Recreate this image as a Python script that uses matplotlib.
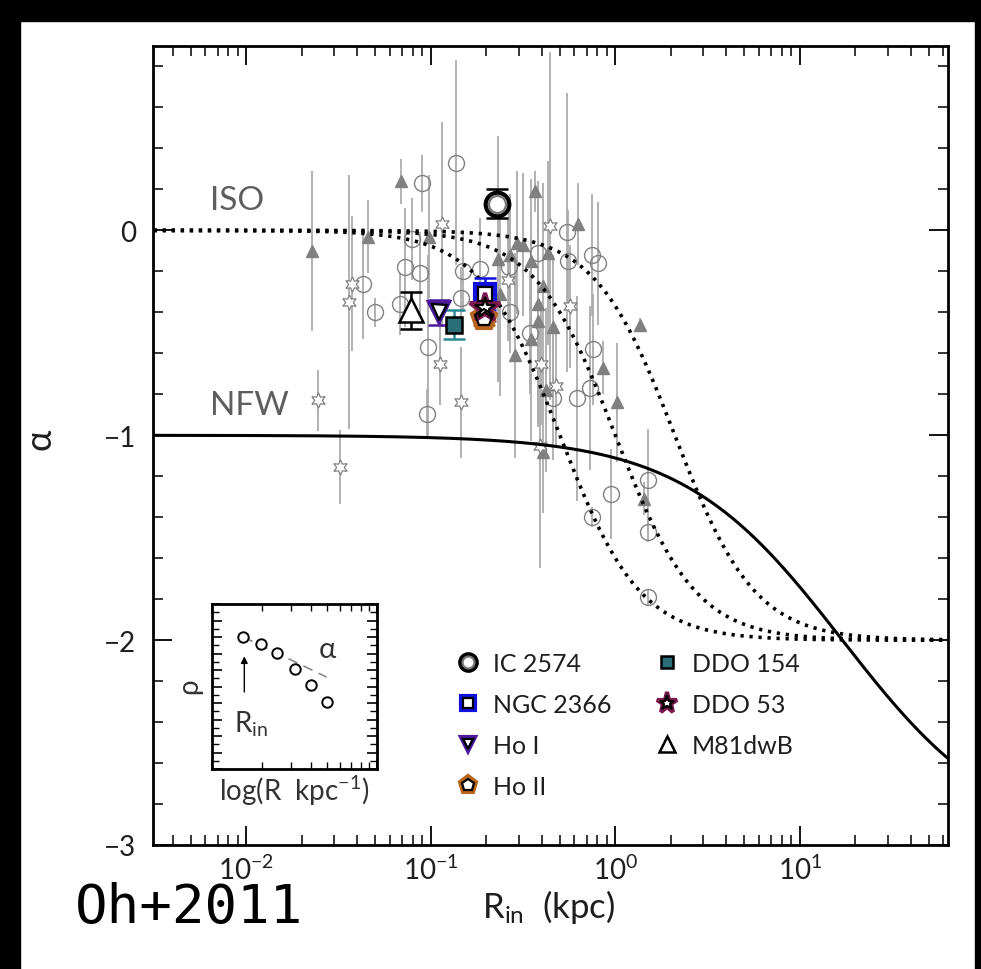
import numpy as np
import matplotlib
matplotlib.use("Agg")
import matplotlib.pyplot as plt
from matplotlib.legend_handler import HandlerTuple
from matplotlib.ticker import MultipleLocator, LogLocator, NullFormatter, FixedLocator, FixedFormatter
import matplotlib.patches as mpatches

plt.rcParams["font.family"] = ["Lato", "DejaVu Sans"]
plt.rcParams["font.weight"] = "normal"
plt.rcParams["mathtext.fontset"] = "custom"
plt.rcParams["mathtext.rm"] = "Lato"
plt.rcParams["mathtext.it"] = "DejaVu Sans:italic"
plt.rcParams["mathtext.default"] = "regular"

# ---------------- data ----------------
# comparison sample (gray): open circles
circ_r = [0.043, 0.050, 0.089, 0.072, 0.087, 0.068, 0.079, 0.137, 0.097, 0.095,
          0.150, 0.145, 0.185, 0.545, 0.745, 0.809, 0.556, 0.382, 0.266, 0.269,
          0.344, 0.753, 0.729, 0.617, 0.461, 1.496, 0.944, 0.750, 1.496, 1.496]
circ_a = [-0.26, -0.40, 0.23, -0.18, -0.21, -0.36, -0.04, 0.33, -0.57, -0.895,
          -0.20, -0.33, -0.19, -0.01, -0.12, -0.16, -0.15, -0.11, -0.18, -0.40,
          -0.50, -0.58, -0.77, -0.82, -0.82, -1.22, -1.285, -1.40, -1.47, -1.79]
circ_e = [0.27, 0.07, 0.14, 0.29, 0.20, 0.15, 0.20, 0.50, 0.45, 0.12,
          0.20, 0.15, 0.25, 0.68, 0.30, 0.30, 0.25, 0.30, 0.30, 0.20,
          0.30, 0.27, 0.40, 0.50, 0.30, 0.25, 0.22, 0.05, 0.05, 0.04]

# comparison sample (gray): filled triangles
tri_r = [0.0228, 0.0455, 0.0689, 0.0982, 0.366, 0.630, 0.292, 0.317, 0.349, 0.434,
         0.269, 0.232, 0.406, 0.382, 0.237, 0.382, 0.461, 0.349, 0.286, 0.861,
         1.016, 0.421, 0.406, 1.361, 1.435]
tri_a = [-0.10, -0.03, 0.24, -0.03, 0.19, 0.03, -0.06, -0.07, -0.15, -0.11,
         -0.12, -0.14, -0.27, -0.36, -0.31, -0.44, -0.47, -0.53, -0.61, -0.67,
         -0.84, -0.78, -1.08, -0.46, -1.31]
tri_e = [0.39, 0.18, 0.11, 0.30, 0.10, 0.20, 0.35, 0.35, 0.40, 0.45,
         0.30, 0.60, 0.50, 0.60, 0.50, 0.50, 0.35, 0.50, 0.50, 0.13,
         0.29, 0.40, 0.30, 0.03, 0.08]

# comparison sample (gray): six-pointed stars
star_r = [0.0245, 0.0372, 0.0361, 0.0322, 0.115, 0.112, 0.146, 0.443, 0.263, 0.568,
          0.394, 0.476, 0.390]
star_a = [-0.83, -0.26, -0.35, -1.155, 0.03, -0.65, -0.84, 0.02, -0.24, -0.37,
          -0.65, -0.76, -1.05]
star_e = [0.15, 0.33, 0.62, 0.18, 0.50, 0.20, 0.27, 0.85, 0.30, 0.30,
          0.30, 0.30, 0.60]

# THINGS dwarf galaxies
gal_names = ["IC 2574", "NGC 2366", "Ho I", "Ho II", "DDO 154", "DDO 53", "M81dwB"]
gal_r = [0.229, 0.197, 0.111, 0.195, 0.133, 0.197, 0.078]
gal_a = [0.13, -0.31, -0.40, -0.43, -0.46, -0.38, -0.39]
gal_e = [0.07, 0.08, 0.06, 0.03, 0.07, 0.06, 0.09]

# model parameters
iso_rc = [0.5, 1.0, 2.1]     # pseudo-isothermal core radii (kpc)
nfw_rs = 17.0                # NFW scale radius (kpc)

# schematic inset profile
inset_r = [1.55, 1.97, 2.49, 3.18, 3.98, 4.95]
inset_rho = [0.80, 0.755, 0.705, 0.606, 0.509, 0.404]
inset_fit_r = [1.55, 4.95]
inset_fit_rho = [0.80, 0.557]

xticks = [1e-2, 1e-1, 1e0, 1e1]
xticklabels = ["10$^{-2}$", "10$^{-1}$", "10$^{0}$", "10$^{1}$"]
yticks = [-3, -2, -1, 0]

TXT = "#1e1e1e"

# ---------------- figure ----------------
fig = plt.figure(figsize=(9.81, 9.70), dpi=100)
fig.patch.set_facecolor("white")
# dark frame strips around the page
for rect in [(0, 0, 20 / 981, 1), (0, 1 - 22 / 970, 1, 22 / 970), (975 / 981, 0, 6 / 981, 1)]:
    fig.patches.append(mpatches.Rectangle(rect[:2], rect[2], rect[3], transform=fig.transFigure,
                                          color="black", zorder=10))

ax = fig.add_axes([153 / 981, 124 / 970, 795 / 981, 799 / 970])
ax.set_xscale("log")
ax.set_xlim(10 ** -2.506, 10 ** 1.803)
ax.set_ylim(-3, 0.9)

gray_bar = "#ababab"
gray_mk = "#808080"

ax.errorbar(circ_r, circ_a, yerr=circ_e, fmt="o", ms=11.5, mfc="none", mec=gray_mk, mew=1.0,
            ecolor=gray_bar, elinewidth=1.3, capsize=0, zorder=2)
ax.errorbar(tri_r, tri_a, yerr=tri_e, fmt="^", ms=9, mfc=gray_mk, mec=gray_mk, mew=1.0,
            ecolor=gray_bar, elinewidth=1.3, capsize=0, zorder=2)
ax.errorbar(star_r, star_a, yerr=star_e, fmt="none", ecolor=gray_bar, elinewidth=1.3,
            capsize=0, zorder=2)
ax.plot(star_r, star_a, ls="none", marker=(6, 1, 0), ms=11, mfc="white", mec=gray_mk,
        mew=0.9, zorder=2.5)

# model curves
rr = np.logspace(-2.6, 1.9, 800)
for rc in iso_rc:
    x = rr / rc
    ax.plot(rr, -2 * x ** 2 / (1 + x ** 2), color="black", lw=2.6, ls=(0, (0.9, 1.6)), zorder=3)
x = rr / nfw_rs
ax.plot(rr, -(1 + 3 * x) / (1 + x), color="black", lw=2.2, zorder=3)

ax.text(0.00635, 0.15, "ISO", fontsize=24, color="#5e5e5e", va="center")
ax.text(0.00635, -0.85, "NFW", fontsize=24, color="#5e5e5e", va="center")

# THINGS galaxies
styles = {
    "IC 2574": dict(marker="o", outer="black", inner="#777777", face="white", ms=17, ec="black"),
    "NGC 2366": dict(marker="s", outer="#1010e0", inner="black", face="white", ms=14, ec="#1010e0"),
    "Ho I": dict(marker="v", outer="#4a1a9a", inner="black", face="white", ms=15, ec="#4a1a9a"),
    "Ho II": dict(marker="p", outer="#b8651e", inner="black", face="white", ms=18, ec="#b8651e"),
    "DDO 154": dict(marker="s", outer="black", inner=None, face="#2a6e78", ms=11.5, ec="#2a8a94"),
    "DDO 53": dict(marker="*", outer="#7a1a4e", inner="black", face="white", ms=22, ec="#a0306a"),
    "M81dwB": dict(marker="^", outer="black", inner=None, face="white", ms=17, ec="black"),
}
order = ["IC 2574", "NGC 2366", "Ho II", "Ho I", "DDO 154", "DDO 53", "M81dwB"]
handles = {}
for name in order:
    i = gal_names.index(name)
    st = styles[name]
    ax.errorbar([gal_r[i]], [gal_a[i]], yerr=[gal_e[i]], fmt="none", ecolor=st["ec"],
                elinewidth=1.8, capsize=8, capthick=1.8, zorder=5)
    h1, = ax.plot([gal_r[i]], [gal_a[i]], ls="none", marker=st["marker"], ms=st["ms"],
                  mfc=st["face"], mec=st["outer"], mew=3.0 if st["inner"] else 1.8, zorder=6)
    hs = [h1]
    if st["inner"]:
        h2, = ax.plot([gal_r[i]], [gal_a[i]], ls="none", marker=st["marker"], ms=st["ms"] * 0.72,
                      mfc="none", mec=st["inner"], mew=1.6, zorder=7)
        hs.append(h2)
    handles[name] = tuple(hs)

leg = ax.legend([handles[n] for n in gal_names], gal_names, ncol=2, frameon=False,
                loc="upper left", bbox_to_anchor=(0.381, 0.242), borderaxespad=0, borderpad=0,
                fontsize=18, markerscale=0.7, handlelength=1.0, handletextpad=0.5,
                columnspacing=1.7, labelspacing=0.72,
                handler_map={tuple: HandlerTuple(ndivide=1)})
for t in leg.get_texts():
    t.set_color(TXT)

# axes styling
for sp in ax.spines.values():
    sp.set_linewidth(2.0)
ax.xaxis.set_major_locator(FixedLocator(xticks))
ax.xaxis.set_major_formatter(FixedFormatter(xticklabels))
ax.xaxis.set_minor_locator(LogLocator(base=10, subs=np.arange(2, 10)))
ax.xaxis.set_minor_formatter(NullFormatter())
ax.yaxis.set_major_locator(FixedLocator(yticks))
ax.yaxis.set_minor_locator(MultipleLocator(0.2))
ax.tick_params(which="both", direction="in", top=True, right=True, colors="black",
               labelcolor=TXT, labelsize=20)
ax.tick_params(which="major", length=14, width=1.3)
ax.tick_params(which="minor", length=7, width=1.1)
ax.tick_params(axis="y", pad=12)
ax.tick_params(axis="x", pad=7)

ax.set_xlabel(r"R$_{in}$  (kpc)", fontsize=25, color=TXT)
ax.xaxis.set_label_coords(0.497, -0.052)
ax.set_ylabel(r"$\alpha$", fontsize=26, color=TXT)
ax.yaxis.set_label_coords(-0.119, 0.508)

# schematic inset
ins = fig.add_axes([212 / 981, (970 - 770) / 970, 165 / 981, 165 / 970])
ins.set_xscale("log")
ins.set_xlim(1, 10)
ins.set_ylim(0, 1)
ins.plot(inset_fit_r, inset_fit_rho, color="#888888", lw=1.2, ls=(0, (6, 4)), zorder=1)
ins.plot(inset_r, inset_rho, ls="none", marker="o", ms=7.5, mfc="white", mec="black", mew=1.4, zorder=2)
ins.annotate("", xy=(1.57, 0.70), xytext=(1.57, 0.45),
             arrowprops=dict(arrowstyle="-|>", color="black", lw=1.0, mutation_scale=10))
ins.text(1.36, 0.28, r"R$_{in}$", fontsize=20, color="#333333", va="center")
ins.text(4.4, 0.73, r"$\alpha$", fontsize=21, color="#333333", va="center")
for sp in ins.spines.values():
    sp.set_linewidth(2.0)
ins.yaxis.set_major_locator(MultipleLocator(0.1))
ins.yaxis.set_minor_locator(MultipleLocator(0.05))
ins.xaxis.set_minor_locator(LogLocator(base=10, subs=np.arange(2, 10)))
ins.tick_params(which="both", direction="in", top=True, right=True, labelbottom=False,
                labelleft=False)
ins.tick_params(which="major", length=7, width=1.2)
ins.tick_params(which="minor", length=5, width=1.0)
ins.xaxis.set_minor_formatter(NullFormatter())
ins.set_xlabel(r"log(R  kpc$^{-1}$)", fontsize=20, color="#333333", labelpad=3)
ins.set_ylabel(r"$\rho$", fontsize=20, color="#333333", labelpad=4)

fig.text(75 / 981, (970 - 908) / 970, "Oh+2011", fontsize=39, family="DejaVu Sans Mono",
         weight="normal", color="black", va="center", ha="left")

fig.savefig("out.png", dpi=100, facecolor=fig.get_facecolor())
